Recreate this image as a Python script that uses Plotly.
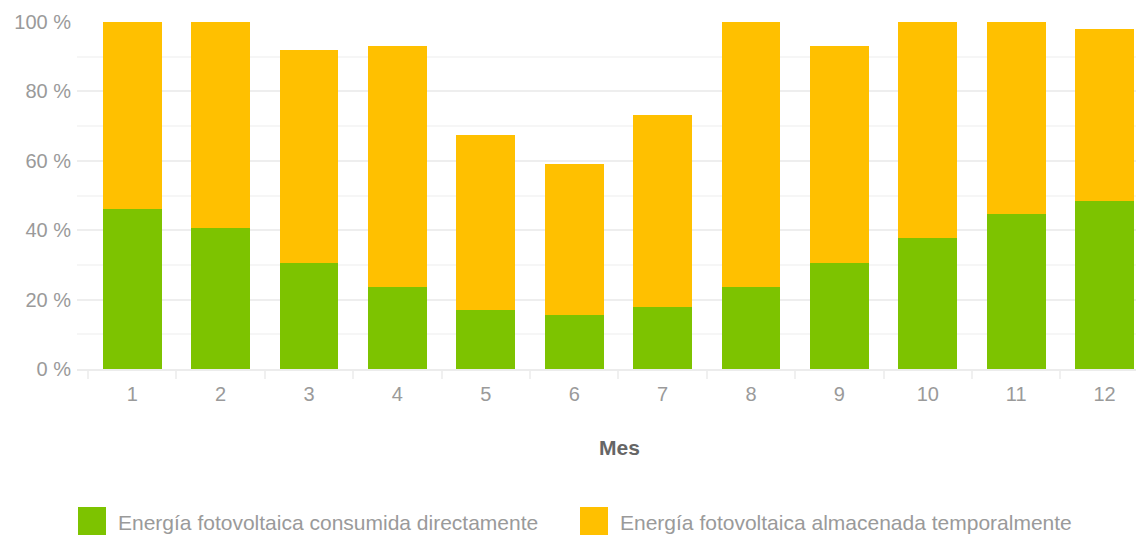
import plotly.graph_objects as go

months = [str(m) for m in range(1, 13)]
direct = [46, 40.6, 30.5, 23.6, 17.1, 15.6, 17.8, 23.6, 30.5, 37.7, 44.7, 48.4]
total = [100, 100, 91.8, 93.2, 67.5, 59.1, 73.3, 100, 93.2, 100, 100, 98.0]
stored = [round(t - d, 1) for t, d in zip(total, direct)]
yticks = [0, 20, 40, 60, 80, 100]
ytick_text = [f"{v} %" for v in yticks]
names = ["Energía fotovoltaica consumida directamente",
         "Energía fotovoltaica almacenada temporalmente"]
colors = ["#7dc300", "#ffc000"]
xtitle = "Mes"

W, H = 1136, 535
L, R, T, B = 77, 0, 22, 166
pw, ph = W - L - R, H - T - B

xpos = list(range(1, 13))

fig = go.Figure()
fig.add_bar(x=xpos, y=direct, name=names[0], marker=dict(color=colors[0], line_width=0), width=0.667)
fig.add_bar(x=xpos, y=stored, name=names[1], marker=dict(color=colors[1], line_width=0), width=0.667)

font = "Liberation Sans, Arial, sans-serif"

def px_x(p):
    return (p - L) / pw

def px_y(p):
    return (H - B - p) / ph

shapes = []
annotations = []
for i, (nm, c, sx, tx) in enumerate(zip(names, colors, [78, 580], [116, 618])):
    shapes.append(dict(type="rect", xref="paper", yref="paper",
                       x0=px_x(sx), x1=px_x(sx + 28), y0=px_y(535), y1=px_y(507),
                       fillcolor=c, line_width=0))
    annotations.append(dict(text=nm, xref="paper", yref="paper", x=px_x(tx), y=px_y(522),
                            xanchor="left", yanchor="middle", showarrow=False,
                            font=dict(size=21, color="#9a9a9a", family=font)))
annotations.append(dict(text=f"<b>{xtitle}</b>", xref="paper", yref="paper",
                        x=px_x(619), y=px_y(447), xanchor="center", yanchor="middle",
                        showarrow=False, font=dict(size=21, color="#666666", family=font)))

fig.update_layout(
    width=W, height=H,
    margin=dict(l=L, r=R, t=T, b=B, pad=0),
    barmode="stack",
    plot_bgcolor="white", paper_bgcolor="white",
    showlegend=False,
    shapes=shapes, annotations=annotations,
    font=dict(family=font, size=20, color="#9a9a9a"),
)
fig.update_xaxes(
    range=[0.3756, 12.355],
    tickmode="array", tickvals=xpos, ticktext=months,
    ticks="", showgrid=False, zeroline=False,
    showline=True, linecolor="#ececec", linewidth=2,
    ticklabelstandoff=6,
    tickfont=dict(size=20, color="#9a9a9a"),
    minor=dict(tickmode="array", tickvals=[x + 0.5 for x in range(0, 13)],
               ticks="outside", ticklen=8, tickcolor="#f0f0f0", tickwidth=2, showgrid=False),
)
fig.update_yaxes(
    range=[0, 100],
    tickmode="array", tickvals=yticks, ticktext=ytick_text,
    showgrid=True, gridcolor="#eeeeee", gridwidth=2,
    zeroline=False, showline=False, ticks="",
    ticklabelstandoff=5,
    tickfont=dict(size=20, color="#9a9a9a"),
    minor=dict(tickmode="array", tickvals=[10, 30, 50, 70, 90], showgrid=True,
               gridcolor="#f6f6f6", gridwidth=2, ticks=""),
)

fig.write_html("out.html")
